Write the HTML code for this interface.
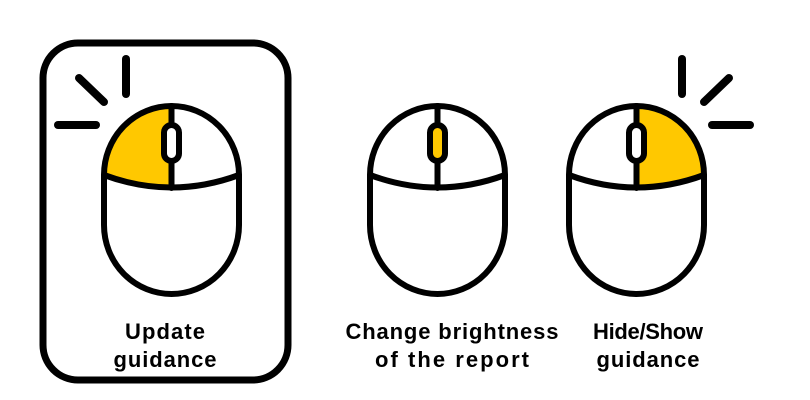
<!DOCTYPE html>
<html><head><meta charset="utf-8"><style>
html,body{margin:0;padding:0;background:#fff;}
svg{display:block;}
text{font-family:"Liberation Sans",Arial,sans-serif;font-weight:bold;font-size:22px;fill:#000;text-anchor:middle;}
</style></head><body>
<svg width="810" height="400" viewBox="0 0 810 400">
<rect x="43" y="43" width="245" height="337" rx="35" fill="none" stroke="#000" stroke-width="7"/>

<g stroke="#000" stroke-width="6" stroke-linecap="round" fill="none">
  <path d="M104,175 A67.5,69 0 0 1 171.5,106 L171.5,188 Q137,187 104,175 Z" fill="#FFC800" stroke="none"/>
  <path d="M104,175 A67.5,69 0 0 1 239,175 L239,225 A67.5,69 0 0 1 104,225 Z"/>
  <path d="M104,175 Q171.5,200 239,175"/>
  <line x1="171.5" y1="106" x2="171.5" y2="188"/>
  <rect x="164" y="125" width="15" height="36" rx="7.5" fill="#fff"/>
  <g stroke-width="8">
    <line x1="126" y1="59" x2="126" y2="94"/>
    <line x1="79" y1="78" x2="104" y2="102"/>
    <line x1="58" y1="125" x2="96" y2="125"/>
  </g>
</g>
<text x="165" y="339" textLength="80" lengthAdjust="spacing">Update</text>
<text x="165" y="367" textLength="103" lengthAdjust="spacing">guidance</text>

<g transform="translate(266,0)" stroke="#000" stroke-width="6" stroke-linecap="round" fill="none">
  <path d="M104,175 A67.5,69 0 0 1 239,175 L239,225 A67.5,69 0 0 1 104,225 Z"/>
  <path d="M104,175 Q171.5,200 239,175"/>
  <line x1="171.5" y1="106" x2="171.5" y2="188"/>
  <rect x="164" y="125" width="15" height="36" rx="7.5" fill="#FFC800"/>
</g>
<text x="452" y="339" textLength="213" lengthAdjust="spacing">Change brightness</text>
<text x="452" y="367" textLength="154" lengthAdjust="spacing">of the report</text>

<g transform="translate(465,0)" stroke="#000" stroke-width="6" stroke-linecap="round" fill="none">
  <path d="M239,175 A67.5,69 0 0 0 171.5,106 L171.5,188 Q206,187 239,175 Z" fill="#FFC800" stroke="none"/>
  <path d="M104,175 A67.5,69 0 0 1 239,175 L239,225 A67.5,69 0 0 1 104,225 Z"/>
  <path d="M104,175 Q171.5,200 239,175"/>
  <line x1="171.5" y1="106" x2="171.5" y2="188"/>
  <rect x="164" y="125" width="15" height="36" rx="7.5" fill="#fff"/>
  <g stroke-width="8">
    <line x1="217" y1="59" x2="217" y2="94"/>
    <line x1="264" y1="78" x2="239" y2="102"/>
    <line x1="285" y1="125" x2="247" y2="125"/>
  </g>
</g>
<text x="648" y="339" textLength="110" lengthAdjust="spacing">Hide/Show</text>
<text x="648" y="367" textLength="103" lengthAdjust="spacing">guidance</text>
</svg>
</body></html>
